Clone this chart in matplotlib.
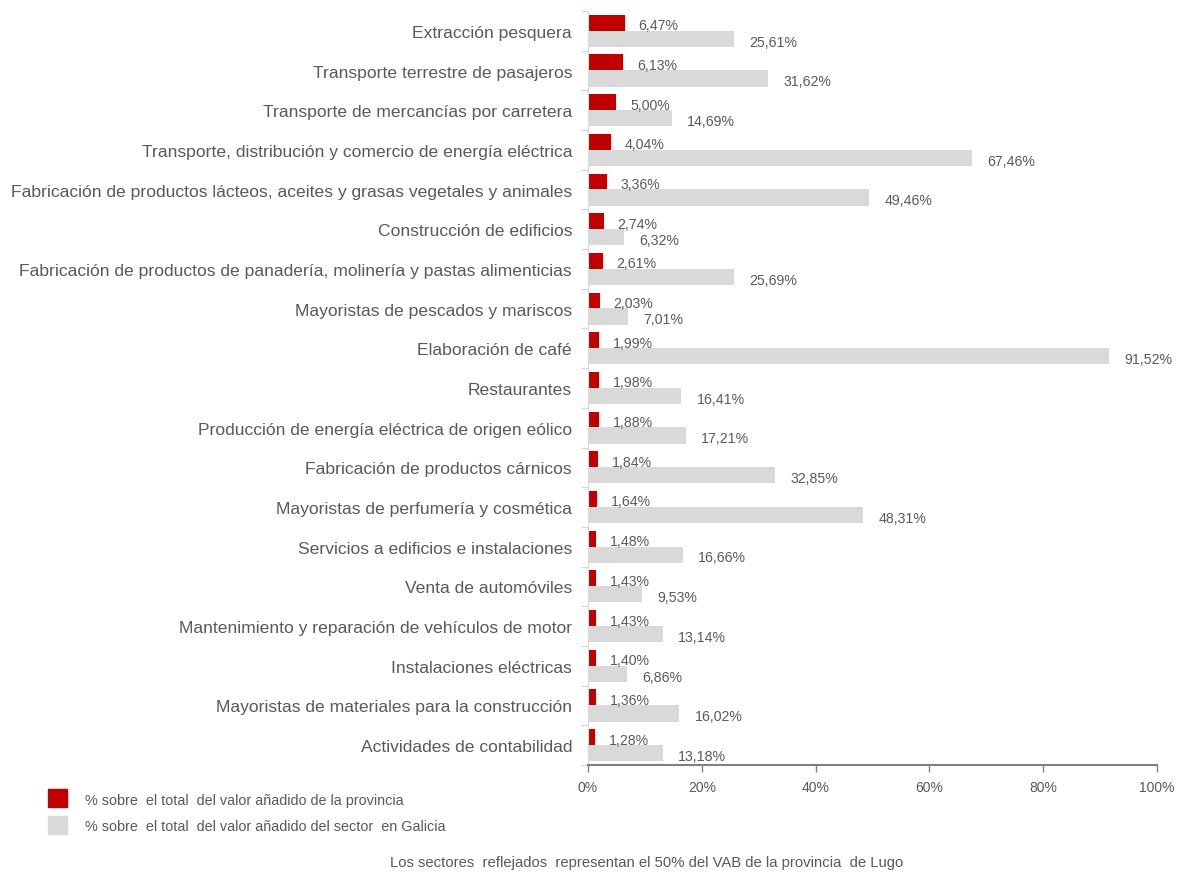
import matplotlib
matplotlib.use("Agg")
import matplotlib.pyplot as plt
from matplotlib.patches import Rectangle
import numpy as np

categories = [
    "Extracción pesquera",
    "Transporte terrestre de pasajeros",
    "Transporte de mercancías por carretera",
    "Transporte, distribución y comercio de energía eléctrica",
    "Fabricación de productos lácteos, aceites y grasas vegetales y animales",
    "Construcción de edificios",
    "Fabricación de productos de panadería, molinería y pastas alimenticias",
    "Mayoristas de pescados y mariscos",
    "Elaboración de café",
    "Restaurantes",
    "Producción de energía eléctrica de origen eólico",
    "Fabricación de productos cárnicos",
    "Mayoristas de perfumería y cosmética",
    "Servicios a edificios e instalaciones",
    "Venta de automóviles",
    "Mantenimiento y reparación de vehículos de motor",
    "Instalaciones eléctricas",
    "Mayoristas de materiales para la construcción",
    "Actividades de contabilidad",
]
pct_provincia = [6.47, 6.13, 5.00, 4.04, 3.36, 2.74, 2.61, 2.03, 1.99, 1.98,
                 1.88, 1.84, 1.64, 1.48, 1.43, 1.43, 1.40, 1.36, 1.28]
pct_galicia = [25.61, 31.62, 14.69, 67.46, 49.46, 6.32, 25.69, 7.01, 91.52, 16.41,
               17.21, 32.85, 48.31, 16.66, 9.53, 13.14, 6.86, 16.02, 13.18]
xticks = [0, 20, 40, 60, 80, 100]
legend_labels = ["% sobre  el total  del valor añadido de la provincia",
                 "% sobre  el total  del valor añadido del sector  en Galicia"]
footnote = "Los sectores  reflejados  representan el 50% del VAB de la provincia  de Lugo"

RED = "#C00000"
GRAY = "#D9D9D9"
TXT = "#595959"

plt.rcParams['font.family'] = ['Liberation Sans', 'DejaVu Sans']

fig = plt.figure(figsize=(11.78, 8.78), dpi=100)
ax = fig.add_axes([588/1178, 1-766/878, (1157-588)/1178, (766-12)/878])

y = np.arange(len(categories))
h = 0.41
ax.barh(y - 0.2, pct_provincia, height=h, color=RED)
ax.barh(y + 0.2, pct_galicia, height=h, color=GRAY)

def fmt(v):
    return f"{v:.2f}".replace(".", ",") + "%"

for yi, v in zip(y, pct_provincia):
    ax.annotate(fmt(v), (v, yi - 0.14), xytext=(10, 0), textcoords="offset points",
                va="center", ha="left", fontsize=10.2, color=TXT)
for yi, v in zip(y, pct_galicia):
    ax.annotate(fmt(v), (v, yi + 0.27), xytext=(11, 0), textcoords="offset points",
                va="center", ha="left", fontsize=10.2, color=TXT)

ax.set_xlim(0, 100)
ax.set_ylim(len(categories) - 0.5, -0.5)
ax.set_yticks(y)
ax.set_yticklabels(categories, fontsize=12.6, color=TXT)
ax.set_yticks(np.arange(len(categories) + 1) - 0.5, minor=True)
ax.tick_params(axis="y", which="major", length=0, pad=11.5)
ax.tick_params(axis="y", which="minor", length=5, color=GRAY, width=1)
ax.set_xticks(xticks)
ax.set_xticklabels([f"{t}%" for t in xticks], fontsize=10, color=TXT)
ax.tick_params(axis="x", length=5, color="#808080", width=1, pad=6)

for s in ["top", "right"]:
    ax.spines[s].set_visible(False)
ax.spines["left"].set_color(GRAY)
ax.spines["bottom"].set_color("#808080")
ax.spines["bottom"].set_linewidth(1.5)

W, H = 1178, 878
fig.add_artist(Rectangle((48/W, 1-808/H), 19/W, 18/H, transform=fig.transFigure, color=RED))
fig.add_artist(Rectangle((48/W, 1-835/H), 19/W, 18/H, transform=fig.transFigure, color=GRAY))
fig.text(85/W, 1-801/H, legend_labels[0], fontsize=10.4, color=TXT, va="center", ha="left")
fig.text(85/W, 1-827/H, legend_labels[1], fontsize=10.4, color=TXT, va="center", ha="left")
fig.text(647/W, 1-863/H, footnote, fontsize=10.7, color=TXT, va="center", ha="center")

fig.savefig("out.png", dpi=100)
